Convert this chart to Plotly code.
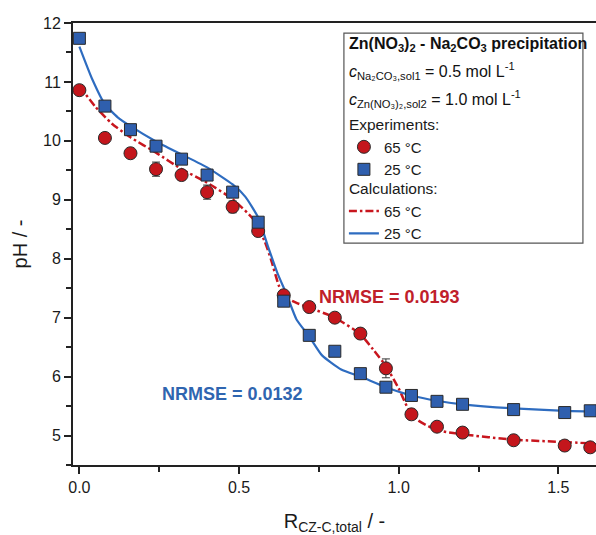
import plotly.graph_objects as go

# Experimental data: molar ratio R_CZ-C,total vs. pH
r_exp = [0.0, 0.08, 0.16, 0.24, 0.32, 0.40, 0.48, 0.56, 0.64, 0.72,
         0.80, 0.88, 0.96, 1.04, 1.12, 1.20, 1.36, 1.52, 1.60]
ph_exp_65 = [10.86, 10.05, 9.79, 9.52, 9.42, 9.13, 8.88, 8.47, 7.38, 7.18,
             7.00, 6.73, 6.14, 5.36, 5.15, 5.05, 4.92, 4.83, 4.80]
err_exp_65 = [0.04, 0.04, 0.04, 0.12, 0.04, 0.12, 0.10, 0.08, 0.05, 0.04,
              0.04, 0.04, 0.16, 0.05, 0.05, 0.04, 0.04, 0.05, 0.05]
ph_exp_25 = [11.74, 10.59, 10.19, 9.91, 9.69, 9.42, 9.13, 8.62, 7.28, 6.70,
             6.43, 6.05, 5.82, 5.68, 5.58, 5.53, 5.44, 5.39, 5.42]
err_exp_25 = [0.05, 0.04, 0.04, 0.05, 0.03, 0.05, 0.03, 0.05, 0.06, 0.05,
              0.06, 0.04, 0.04, 0.04, 0.05, 0.04, 0.04, 0.05, 0.03]

# Model calculations
r_calc_65 = [0.0, 0.05, 0.10, 0.16, 0.24, 0.32, 0.40, 0.48, 0.545, 0.58,
             0.60, 0.625, 0.645, 0.68, 0.72, 0.80, 0.88, 0.92, 0.96, 1.00,
             1.03, 1.06, 1.10, 1.14, 1.20, 1.36, 1.52, 1.62]
ph_calc_65 = [10.93, 10.58, 10.30, 10.06, 9.80, 9.52, 9.29, 9.01, 8.67, 8.30,
              7.99, 7.54, 7.35, 7.25, 7.17, 7.00, 6.72, 6.46, 6.18, 5.80,
              5.45, 5.26, 5.14, 5.07, 5.02, 4.93, 4.89, 4.86]
r_calc_25 = [0.0, 0.04, 0.08, 0.12, 0.16, 0.24, 0.32, 0.40, 0.48, 0.52,
             0.56, 0.59, 0.62, 0.65, 0.68, 0.72, 0.76, 0.82, 0.88, 0.96,
             1.04, 1.12, 1.20, 1.36, 1.52, 1.62]
ph_calc_25 = [11.60, 11.05, 10.62, 10.40, 10.25, 9.99, 9.77, 9.55, 9.26, 9.05,
              8.70, 8.22, 7.76, 7.38, 6.97, 6.68, 6.36, 6.12, 6.00, 5.82,
              5.68, 5.59, 5.53, 5.46, 5.42, 5.41]

x_ticks = [0.0, 0.5, 1.0, 1.5]
y_ticks = [5, 6, 7, 8, 9, 10, 11, 12]

nrmse_65 = "0.0193"
nrmse_25 = "0.0132"

RED = "#c4161c"
BLUE = "#2f5fae"
RED_LINE = "#c8161e"
BLUE_LINE = "#2e6cc0"
FONT = "Arial, Liberation Sans, Helvetica, sans-serif"

fig = go.Figure()

# Calculated curves first so the measured points sit on top
fig.add_trace(go.Scatter(
    x=r_calc_65, y=ph_calc_65, mode="lines", name="65 °C", legend="legend2",
    legendgroup="calc", legendgrouptitle_text="Calculations:", legendrank=1,
    line=dict(color=RED_LINE, width=2.5, dash="8px,3px,2.5px,3px",
              shape="spline", smoothing=0.5),
))
fig.add_trace(go.Scatter(
    x=r_calc_25, y=ph_calc_25, mode="lines", name="25 °C", legend="legend2",
    legendgroup="calc", legendgrouptitle_text="Calculations:", legendrank=2,
    line=dict(color=BLUE_LINE, width=2.2, shape="spline", smoothing=0.5),
))
fig.add_trace(go.Scatter(
    x=r_exp, y=ph_exp_65, mode="markers", name="65 °C", legend="legend",
    legendgroup="exp", legendgrouptitle_text="Experiments:", legendrank=1,
    marker=dict(symbol="circle", size=13, color=RED,
                line=dict(color="#2a2a2a", width=1)),
    error_y=dict(type="data", array=err_exp_65, color="#333333",
                 thickness=1, width=4),
))
fig.add_trace(go.Scatter(
    x=r_exp, y=ph_exp_25, mode="markers", name="25 °C", legend="legend",
    legendgroup="exp", legendgrouptitle_text="Experiments:", legendrank=2,
    marker=dict(symbol="square", size=12, color=BLUE,
                line=dict(color="#2a2a2a", width=1)),
    error_y=dict(type="data", array=err_exp_25, color="#b03040",
                 thickness=1, width=3),
))

# Header lines of the legend box
header_lines = [
    ("<b>Zn(NO<sub>3</sub>)<sub>2</sub> - Na<sub>2</sub>CO<sub>3</sub> precipitation</b>", 0.952),
    ("<i>c</i><sub>Na₂CO₃,sol1</sub> = 0.5 mol L<sup>-1</sup>", 0.891),
    ("<i>c</i><sub>Zn(NO₃)₂,sol2</sub> = 1.0 mol L<sup>-1</sup>", 0.828),
]
annotations = [
    dict(x=0.524, y=yy, xref="paper", yref="paper", text=txt,
         xanchor="left", yanchor="middle", showarrow=False,
         font=dict(size=16, family=FONT, color="#111111"))
    for txt, yy in header_lines
]
annotations += [
    dict(x=0.972, y=7.345, xref="x", yref="y", text=f"<b>NRMSE = {nrmse_65}</b>",
         showarrow=False, font=dict(size=18, family=FONT, color="#c0202a")),
    dict(x=0.48, y=5.70, xref="x", yref="y", text=f"<b>NRMSE = {nrmse_25}</b>",
         showarrow=False, font=dict(size=18, family=FONT, color="#2f65b0")),
]

legend_style = dict(
    xanchor="left", yanchor="top",
    borderwidth=0, bgcolor="rgba(0,0,0,0)",
    font=dict(size=15, family=FONT),
    traceorder="grouped", tracegroupgap=0,
    grouptitlefont=dict(size=15.5, family=FONT),
    itemwidth=30,
)

fig.update_layout(
    width=596, height=535,
    margin=dict(l=73, r=0, t=23, b=70),
    paper_bgcolor="white", plot_bgcolor="white",
    font=dict(family=FONT, color="#1a1a1a", size=16),
    showlegend=True,
    legend=dict(x=0.518, y=0.809, **legend_style),
    legend2=dict(x=0.518, y=0.664, **legend_style),
    shapes=[
        dict(type="rect", xref="paper", yref="paper",
             x0=0.518, x1=0.975, y0=0.502, y1=0.977,
             line=dict(color="#555555", width=1.2), fillcolor="white",
             layer="below"),
    ],
    annotations=annotations,
    xaxis=dict(
        range=[-0.02, 1.618], showgrid=False, zeroline=False,
        showline=True, linecolor="#222222", linewidth=2, mirror=True,
        ticks="outside", ticklen=7, tickwidth=1.5, tickcolor="#222222",
        tickvals=x_ticks, ticktext=[f"{v:.1f}" for v in x_ticks],
        minor=dict(dtick=0.25, tick0=0, ticks="outside", ticklen=5,
                   tickwidth=1.5, tickcolor="#222222"),
        tickfont=dict(size=16),
        title=dict(text="R<sub>CZ-C,total</sub> / -", font=dict(size=20),
                   standoff=22),
    ),
    yaxis=dict(
        range=[4.5, 12.0], showgrid=False, zeroline=False,
        showline=True, linecolor="#222222", linewidth=2,
        ticks="outside", ticklen=7, tickwidth=1.5, tickcolor="#222222",
        tickvals=y_ticks,
        minor=dict(dtick=0.5, tick0=0, ticks="outside", ticklen=5,
                   tickwidth=1.5, tickcolor="#222222"),
        tickfont=dict(size=16),
        title=dict(text="pH / -", font=dict(size=20), standoff=10),
    ),
)

fig.write_html("out.html")
